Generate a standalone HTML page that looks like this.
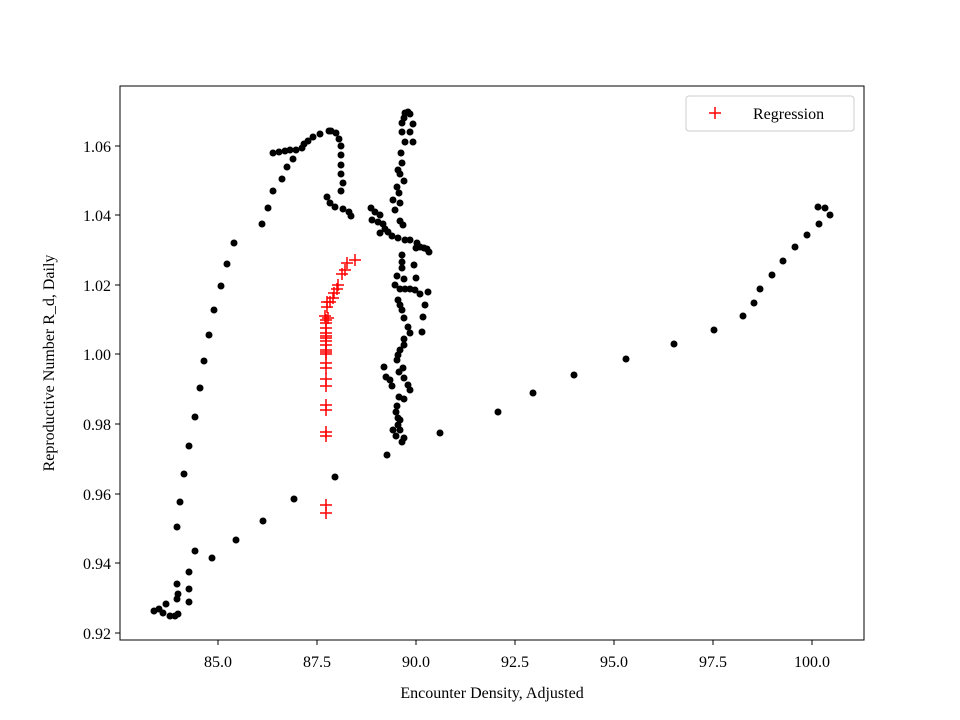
<!DOCTYPE html>
<html><head><style>body{margin:0;background:#fff}svg{display:block}</style></head>
<body>
<svg width="960" height="720" xmlns="http://www.w3.org/2000/svg" font-family="Liberation Serif, serif">
<rect width="960" height="720" fill="#fff"/>
<g id="pts" fill="#000"></g>
<g id="cr" stroke="#f00" stroke-width="1.5"></g>
<rect x="120" y="86" width="744" height="554" fill="none" stroke="#000" stroke-width="1"/>
<g stroke="#000" stroke-width="1">
<line x1="218" y1="640" x2="218" y2="645"/><line x1="317" y1="640" x2="317" y2="645"/><line x1="416" y1="640" x2="416" y2="645"/><line x1="515" y1="640" x2="515" y2="645"/><line x1="614" y1="640" x2="614" y2="645"/><line x1="713" y1="640" x2="713" y2="645"/><line x1="812" y1="640" x2="812" y2="645"/>
<line x1="115" y1="633" x2="120" y2="633"/><line x1="115" y1="563" x2="120" y2="563"/><line x1="115" y1="494" x2="120" y2="494"/><line x1="115" y1="424" x2="120" y2="424"/><line x1="115" y1="354" x2="120" y2="354"/><line x1="115" y1="285" x2="120" y2="285"/><line x1="115" y1="215" x2="120" y2="215"/><line x1="115" y1="146" x2="120" y2="146"/>
</g>
<g font-size="16" text-anchor="middle" fill="#000">
<text x="218" y="667">85.0</text><text x="317" y="667">87.5</text><text x="416" y="667">90.0</text><text x="515" y="667">92.5</text><text x="614" y="667">95.0</text><text x="713" y="667">97.5</text><text x="812" y="667">100.0</text>
<text x="492" y="698">Encounter Density, Adjusted</text>
</g>
<g font-size="16" text-anchor="end" fill="#000">
<text x="111" y="639">0.92</text><text x="111" y="569">0.94</text><text x="111" y="500">0.96</text><text x="111" y="430">0.98</text><text x="111" y="360">1.00</text><text x="111" y="291">1.02</text><text x="111" y="221">1.04</text><text x="111" y="152">1.06</text>
</g>
<text transform="translate(54,363) rotate(-90)" font-size="16" text-anchor="middle">Reproductive Number R_d, Daily</text>
<rect x="686" y="96" width="168" height="35" rx="3" fill="#fff" stroke="#ccc"/>
<g stroke="#f00" stroke-width="1.5"><line x1="709" y1="113" x2="721" y2="113"/><line x1="715" y1="107" x2="715" y2="119"/></g>
<text x="753" y="119" font-size="16">Regression</text>
<script>
var P=[[154,611],[159,609],[163,613],[166,604],[170,616],[175,616],[178,614],[177,599],[177,584],[178,594],[189,602],[189,589],[189,572],[195,551],[212,558],[236,540],[263,521],[294,499],[335,477],[177,527],[180,502],[184,474],[189,446],[195,417],[200,388],[204,361],[209,335],[214,310],[221,286],[227,264],[234,243],[262,224],[268,208],[273,191],[282,179],[287,167],[293,159],[273,153],[279,152],[285,151],[290,150],[296,150],[302,148],[304,144],[308,141],[313,137],[320,134],[329,131],[331,131],[336,133],[339,139],[341,146],[341,155],[341,165],[341,174],[343,183],[341,191],[327,197],[330,203],[335,207],[343,209],[349,212],[351,216],
[405,113],[408,112],[410,114],[404,118],[413,124],[402,123],[402,132],[410,132],[405,142],[413,142],[401,153],[402,163],[398,170],[400,174],[404,181],[397,187],[399,193],[393,200],[400,203],[395,210],[400,221],[403,225],[371,208],[375,212],[380,215],[372,220],[378,222],[383,224],[385,229],[388,232],[380,233],[392,236],[398,238],[405,240],[410,240],[417,243],[420,247],[424,248],[427,249],[429,252],[416,248],[402,255],[402,262],[402,268],[414,265],[397,276],[404,279],[416,278],[395,285],[400,289],[405,289],[410,289],[415,290],[398,300],[420,294],[400,305],[428,292],[402,310],[425,305],[404,318],[423,317],[408,327],[422,332],[410,333],[404,339],[404,345],[400,350],[398,355],[397,360],[403,368],[399,372],[404,378],[408,385],[410,390],[384,367],[386,377],[390,380],[392,386],[399,397],[404,399],[397,406],[396,412],[398,418],[393,430],[396,436],[402,442],[404,438],[387,455],[400,420],[398,425],[400,430],
[440,433],[498,412],[533,393],[574,375],[626,359],[674,344],[714,330],[743,316],[754,303],[760,289],[772,275],[783,261],[795,247],[807,235],[819,224],[830,215],[825,208],[818,207]];
var C=[[355,260],[347,263],[345,270],[342,274],[338,285],[337,289],[334,293],[333,298],[330,302],[327,302],[327,307],[325,316],[328,318],[326,320],[326,323],[326,328],[326,333],[326,336],[326,338],[326,341],[326,345],[326,350],[326,352],[326,354],[326,363],[326,368],[326,379],[326,386],[326,405],[326,410],[326,432],[326,436],[326,505],[326,513]];
var ns="http://www.w3.org/2000/svg",g=document.getElementById('pts'),c=document.getElementById('cr');
P.forEach(function(p){var e=document.createElementNS(ns,'circle');e.setAttribute('cx',p[0]);e.setAttribute('cy',p[1]);e.setAttribute('r',3.5);g.appendChild(e);});
C.forEach(function(p){var a=document.createElementNS(ns,'path');a.setAttribute('d','M'+(p[0]-6)+' '+p[1]+'h12M'+p[0]+' '+(p[1]-6)+'v12');c.appendChild(a);});
</script>
</svg>
</body></html>
